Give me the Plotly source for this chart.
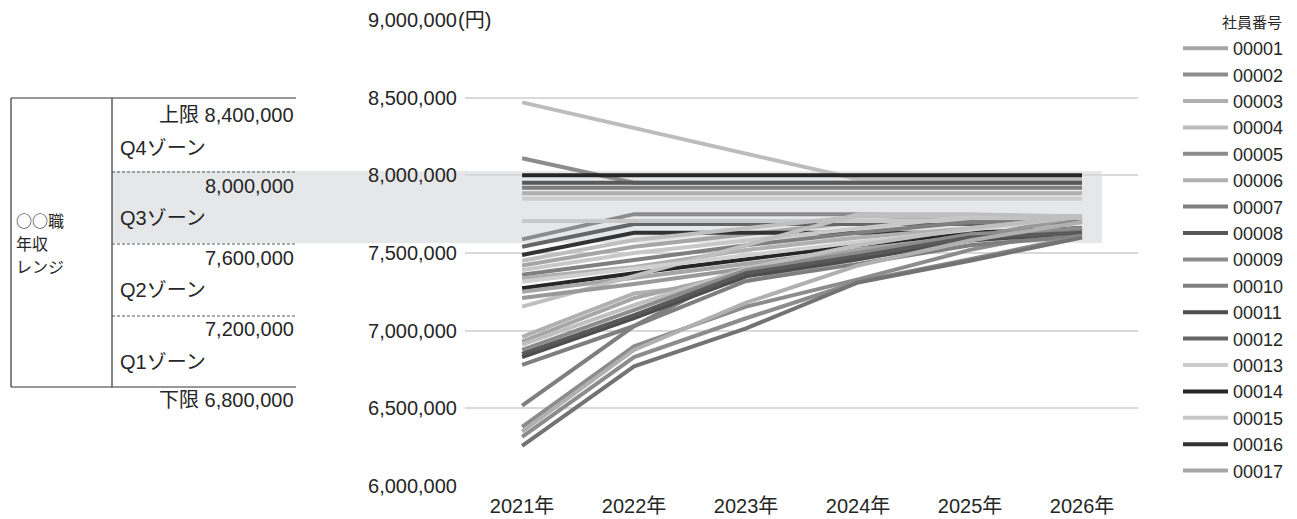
import plotly.graph_objects as go

# ---------------- data ----------------
years = [2021, 2022, 2023, 2024, 2025, 2026]
year_labels = ["2021年", "2022年", "2023年", "2024年", "2025年", "2026年"]
y_ticks = [6000000, 6500000, 7000000, 7500000, 8000000, 8500000, 9000000]
y_tick_labels = ["6,000,000", "6,500,000", "7,000,000", "7,500,000",
                 "8,000,000", "8,500,000", "9,000,000"]

e00001 = [7420000, 7540000, 7620000, 7700000, 7735000, 7735000]
e00002 = [8110000, 7953000, 7953000, 7953000, 7953000, 7953000]
e00003 = [6960000, 7240000, 7320000, 7460000, 7600000, 7700000]
e00004 = [8470000, 8305000, 8140000, 7975000, 7975000, 7975000]
e00005 = [7588000, 7750000, 7750000, 7750000, 7735000, 7735000]
e00006 = [7885000, 7885000, 7885000, 7885000, 7885000, 7885000]
e00007 = [7920000, 7920000, 7920000, 7920000, 7920000, 7920000]
e00008 = [7953000, 7953000, 7953000, 7953000, 7953000, 7953000]
e00009 = [6380000, 6900000, 7155000, 7330000, 7520000, 7660000]
e00010 = [6517000, 7030000, 7400000, 7520000, 7620000, 7660000]
e00011 = [6830000, 7080000, 7350000, 7460000, 7580000, 7630000]
e00012 = [7540000, 7687000, 7687000, 7687000, 7687000, 7700000]
e00013 = [7850000, 7850000, 7850000, 7850000, 7850000, 7850000]
e00014 = [8000000, 8000000, 8000000, 8000000, 8000000, 8000000]
e00015 = [7706000, 7706000, 7706000, 7706000, 7706000, 7706000]
e00016 = [7487000, 7630000, 7630000, 7630000, 7630000, 7630000]
e00017 = [6930000, 7210000, 7380000, 7520000, 7620000, 7660000]
e00018 = [7450000, 7584000, 7660000, 7735000, 7735000, 7735000]
e00019 = [7390000, 7500000, 7580000, 7660000, 7735000, 7735000]
e00020 = [7360000, 7455000, 7550000, 7630000, 7700000, 7700000]
e00021 = [7337000, 7410000, 7520000, 7600000, 7660000, 7735000]
e00022 = [7273000, 7370000, 7460000, 7550000, 7630000, 7660000]
e00023 = [7250000, 7340000, 7430000, 7520000, 7610000, 7630000]
e00024 = [7155000, 7350000, 7550000, 7750000, 7750000, 7735000]
e00025 = [7210000, 7300000, 7400000, 7500000, 7600000, 7735000]
e00026 = [7315000, 7400000, 7490000, 7570000, 7650000, 7735000]
e00027 = [6910000, 7165000, 7400000, 7550000, 7660000, 7735000]
e00028 = [6876000, 7130000, 7390000, 7500000, 7620000, 7660000]
e00029 = [6850000, 7100000, 7370000, 7480000, 7600000, 7630000]
e00030 = [6780000, 7030000, 7320000, 7430000, 7550000, 7610000]
e00031 = [6350000, 6876000, 7180000, 7420000, 7580000, 7700000]
e00032 = [6317000, 6830000, 7080000, 7315000, 7460000, 7610000]
e00033 = [6258000, 6770000, 7015000, 7310000, 7450000, 7600000]

series = [e00001, e00002, e00003, e00004, e00005, e00006, e00007, e00008,
          e00009, e00010, e00011, e00012, e00013, e00014, e00015, e00016,
          e00017, e00018, e00019, e00020, e00021, e00022, e00023, e00024,
          e00025, e00026, e00027, e00028, e00029, e00030, e00031, e00032,
          e00033]
emp_ids = ["%05d" % (i + 1) for i in range(len(series))]
legend_count = 17

colors = ["#a6a6a6", "#8c8c8c", "#b0b0b0", "#bcbcbc", "#8c8c8c", "#b0b0b0",
          "#7f7f7f", "#595959", "#8c8c8c", "#7f7f7f", "#4d4d4d", "#666666",
          "#cccccc", "#262626", "#c8c8c8", "#333333", "#a6a6a6",
          "#bfbfbf", "#c8c8c8", "#7f7f7f", "#b0b0b0", "#262626", "#a6a6a6",
          "#bfbfbf", "#999999", "#d0d0d0", "#bfbfbf", "#8c8c8c", "#595959",
          "#7f7f7f", "#b0b0b0", "#8c8c8c", "#737373"]

zone_values = ["上限 8,400,000", "8,000,000", "7,600,000", "7,200,000", "下限 6,800,000"]
zone_names = ["Q4ゾーン", "Q3ゾーン", "Q2ゾーン", "Q1ゾーン"]
range_title = ["○○職", "年収", "レンジ"]
legend_title = "社員番号"
unit_label = "(円)"

# ---------------- layout helpers ----------------
W, H = 1297, 519
PL, PR, PT, PB = 465, 1138, 20, 486


def px(x):
    return (x - PL) / (PR - PL)


def py(y):
    return (PB - y) / (PB - PT)


FONT = "Liberation Sans, Arial, 'Noto Sans CJK JP', sans-serif"
CJK = "'Noto Sans CJK JP', sans-serif"
TXT = "#262626"

fig = go.Figure()
for i, vals in enumerate(series):
    fig.add_trace(go.Scatter(
        x=years, y=vals, mode="lines", name=emp_ids[i],
        line=dict(color=colors[i], width=4),
        showlegend=i < legend_count,
        hoverinfo="x+y+name"))

shapes = []
# zone band
shapes.append(dict(type="rect", xref="paper", yref="paper",
                   x0=px(112), x1=px(1102), y0=py(243), y1=py(171),
                   fillcolor="#e6e7e9", line=dict(width=0), layer="below"))
# table frame
for (x0, y0, x1, y1) in [(11, 98, 296, 98), (11, 387, 296, 387),
                         (11, 98, 11, 387), (112, 98, 112, 387)]:
    shapes.append(dict(type="line", xref="paper", yref="paper",
                       x0=px(x0), y0=py(y0), x1=px(x1), y1=py(y1),
                       line=dict(color="#333333", width=1.2), layer="above"))
for yy in [172, 244, 316]:
    shapes.append(dict(type="line", xref="paper", yref="paper",
                       x0=px(112), y0=py(yy), x1=px(296), y1=py(yy),
                       line=dict(color="#555555", width=1, dash="3px,2px"), layer="above"))

annotations = []
for txt, yy in zip(zone_values, [115, 186, 258, 329, 400]):
    annotations.append(dict(text=txt, xref="paper", yref="paper", x=px(296), y=py(yy),
                            xanchor="right", yanchor="middle", showarrow=False,
                            font=dict(size=20, color=TXT, family=FONT)))
for txt, yy in zip(zone_names, [148, 218, 290, 362]):
    annotations.append(dict(text=txt, xref="paper", yref="paper", x=px(118), y=py(yy),
                            xanchor="left", yanchor="middle", showarrow=False,
                            font=dict(size=20, color=TXT, family=FONT)))
for txt, yy in zip(range_title, [220, 243, 266]):
    annotations.append(dict(text=txt, xref="paper", yref="paper",
                            x=px(15), y=py(yy), xanchor="left", yanchor="middle",
                            showarrow=False, borderpad=0,
                            font=dict(size=16, color=TXT, family=CJK)))
annotations.append(dict(text=unit_label, xref="paper", yref="paper", x=px(457), y=1,
                        xanchor="left", yanchor="middle", showarrow=False,
                        bgcolor="white", borderpad=0,
                        font=dict(size=20, color=TXT, family=FONT)))
annotations.append(dict(text=legend_title, xref="paper", yref="paper", x=px(1284), y=py(22),
                        xanchor="right", yanchor="middle", showarrow=False,
                        font=dict(size=15, color=TXT, family=CJK)))

fig.update_layout(
    width=W, height=H,
    margin=dict(l=PL, r=W - PR, t=PT, b=H - PB, pad=0, autoexpand=False),
    paper_bgcolor="white", plot_bgcolor="rgba(0,0,0,0)",
    font=dict(family=FONT, color=TXT, size=19),
    shapes=shapes, annotations=annotations,
    showlegend=True,
    legend=dict(x=px(1178), xanchor="left", y=py(30), yanchor="top",
                font=dict(size=18, color=TXT, family=FONT), itemwidth=45,
                bgcolor="rgba(0,0,0,0)", borderwidth=0,
                itemclick=False, itemdoubleclick=False),
    xaxis=dict(range=[2020.49, 2026.5], tickvals=years, ticktext=year_labels,
               showgrid=False, zeroline=False, showline=False, ticks="",
               ticklabelstandoff=6, automargin=False,
               tickfont=dict(size=20, color=TXT, family=FONT), fixedrange=True),
    yaxis=dict(range=[6000000, 9000000], tickvals=y_ticks, ticktext=y_tick_labels,
               showgrid=True, gridcolor="#d9d9d9", gridwidth=1.5, automargin=False,
               zeroline=False, showline=False, ticks="", ticklabelstandoff=7,
               tickfont=dict(size=20, color=TXT, family=FONT), fixedrange=True),
)

fig.write_html("out.html")
